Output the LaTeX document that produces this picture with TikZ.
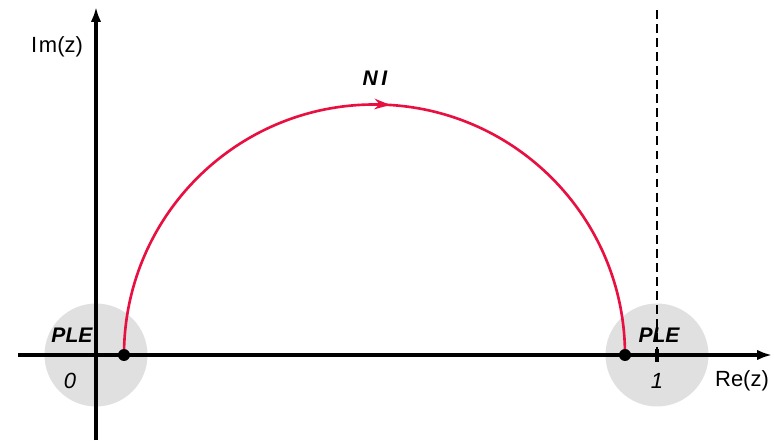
\documentclass[tikz,border=0pt]{standalone}
\usepackage{fontspec}
\setmainfont{Liberation Sans}
\usepackage{tikz}
\usetikzlibrary{arrows.meta,decorations.markings}
\definecolor{PathRed}{RGB}{232, 16, 64}
\definecolor{PoleGray}{RGB}{224, 224, 224}

\begin{document}
\begin{tikzpicture}[x=0.02cm, y=0.02cm]
  \tikzstyle{axis} = [line width=1.9pt, -{Latex[length=8.5pt, width=6pt]}]
  \tikzstyle{pole} = [circle, fill=PoleGray, minimum size=2.06cm, inner sep=0pt]
  \tikzstyle{endpt} = [circle, fill=black, minimum size=0.24cm, inner sep=0pt]
  \tikzstyle{lbl} = [font=\fontsize{12.5}{14}\selectfont, inner sep=1pt]
  \tikzstyle{bold lbl} = [font=\fontsize{12}{14}\selectfont\bfseries\itshape, inner sep=1pt]
  \tikzstyle{contour} = [draw=PathRed, line width=1.5pt,
    postaction={decorate},
    decoration={markings, mark=at position 0.52 with {\arrow{Stealth[length=9pt, width=6pt]}}}]

  \useasboundingbox (0,0) rectangle (775,440);

  \coordinate (origin) at (96,85);
  \coordinate (one) at (657,85);

  \node [pole] (pole0) at (origin) {};
  \node [pole] (pole1) at (one) {};

  \coordinate (xstart) at (18,85);
  \coordinate (xend) at (772,85);
  \coordinate (ystart) at (96,0);
  \coordinate (yend) at (96,433);
  \coordinate (dashtop) at (657,430);
  \coordinate (ticklo) at (657,78);
  \coordinate (tickhi) at (657,91);
  \coordinate (start) at (124,85);
  \coordinate (stop) at (625,85);

  \draw [dashed, line width=0.6pt, dash pattern=on 5pt off 3pt] (dashtop) -- (one);
  \draw [axis] (xstart) -- (xend);
  \draw [axis] (ystart) -- (yend);
  \draw [line width=1.9pt] (ticklo) -- (tickhi);

  \path [contour] (start) arc [start angle=180, end angle=0, radius=250.5];
  \node [endpt] (a) at (start) {};
  \node [endpt] (b) at (stop) {};

  \node [bold lbl] (ni) at (375,362) {N\,I};
  \node [bold lbl] (ple0) at (72,105) {PLE};
  \node [bold lbl] (ple1) at (659,105) {PLE};
  \node [lbl, font=\fontsize{12.5}{14}\selectfont\itshape] (zero) at (70,59) {0};
  \node [lbl, font=\fontsize{12.5}{14}\selectfont\itshape] (unit) at (657,59) {1};
  \node [lbl] (re) at (742,59) {Re(z)};
  \node [lbl] (im) at (57,393) {I\kern1pt m(z)};
\end{tikzpicture}
\end{document}
